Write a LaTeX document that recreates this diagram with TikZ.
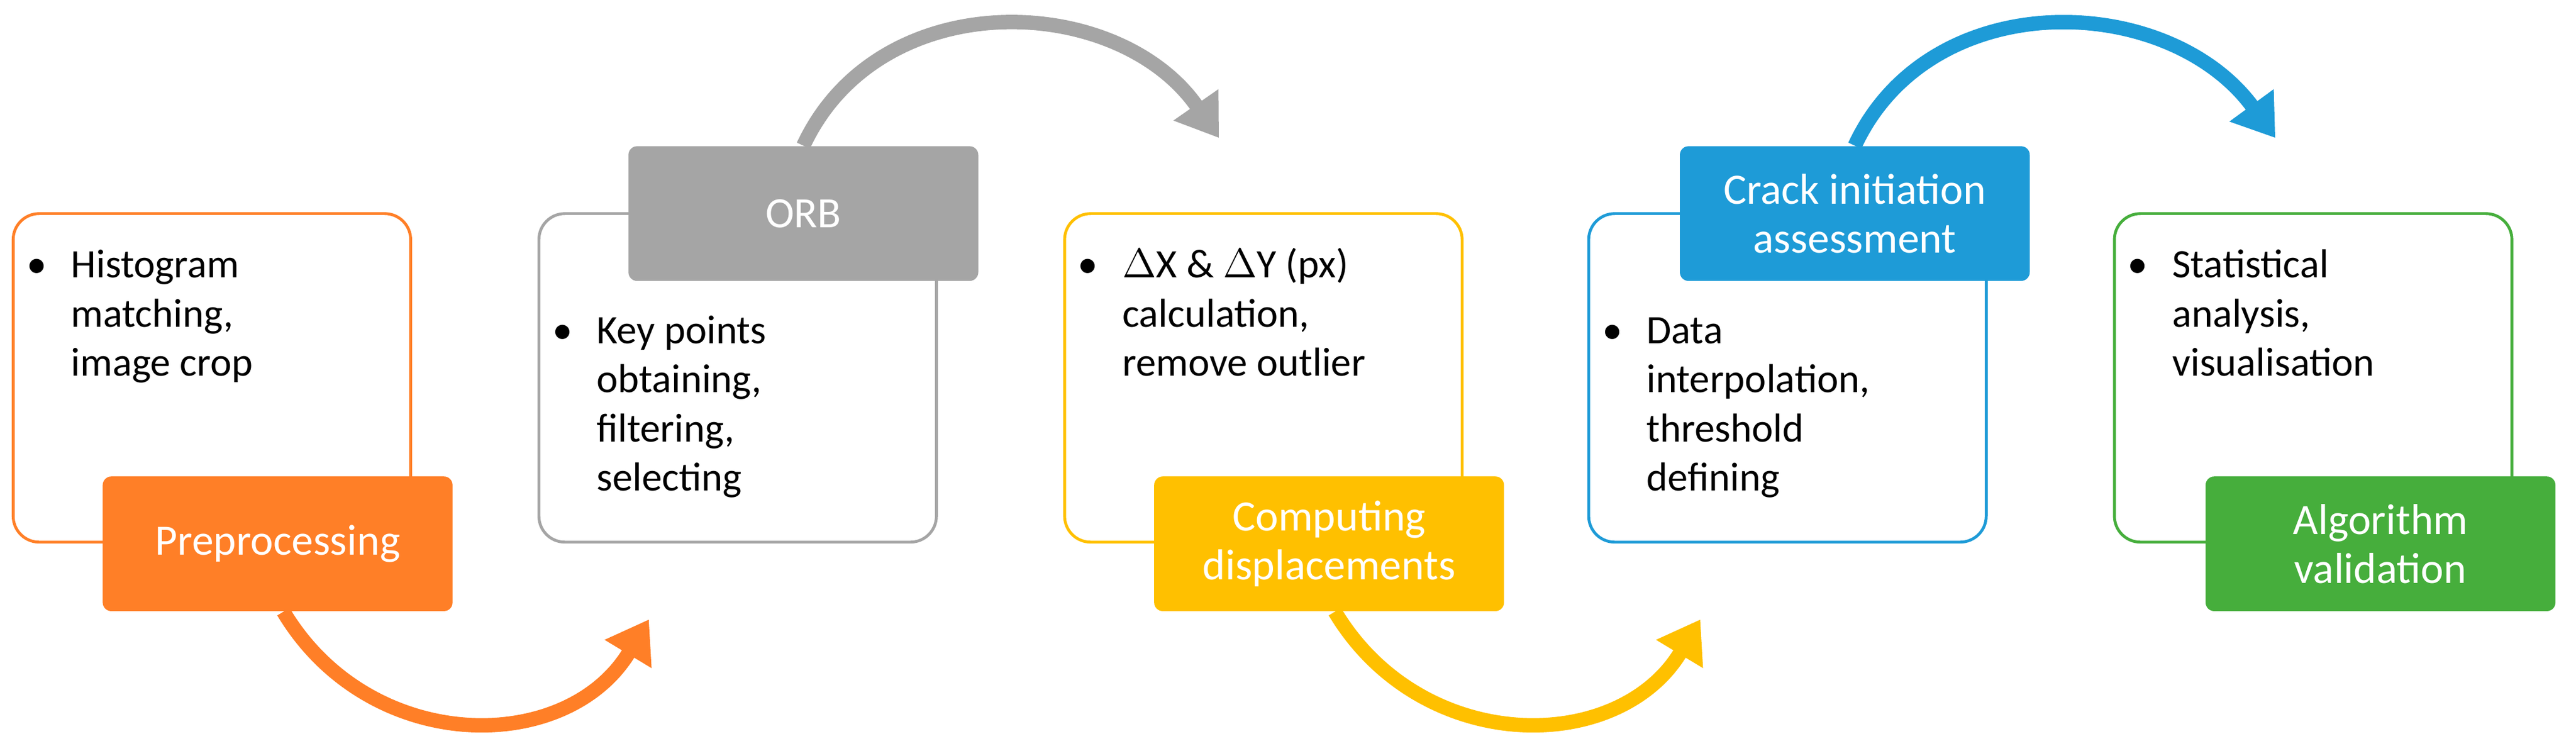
\documentclass[tikz,border=0pt]{standalone}
\usepackage{fontspec}
\setmainfont{Carlito}
\usetikzlibrary{arrows.meta}
\definecolor{cOrange}{HTML}{FF7F27}
\definecolor{cGray}{HTML}{A5A5A5}
\definecolor{cYellow}{HTML}{FFC000}
\definecolor{cBlue}{HTML}{1E9BD7}
\definecolor{cGreen}{HTML}{46AE3C}
\newcommand{\blist}[1]{\begin{tabular}{@{}l@{\hspace{0.6em}}l@{}}#1\end{tabular}}
\tikzset{
  frame/.style={draw=#1, line width=1pt, rounded corners=9pt, minimum width=4.84cm, minimum height=4cm},
  step/.style={fill=#1, rounded corners=3pt, text=white, minimum width=4.26cm, minimum height=1.64cm, align=center, font=\fontsize{15}{17}\selectfont},
  items/.style={anchor=north west, font=\fontsize{14}{17}\selectfont},
  flow/.style={draw=#1, line width=5pt, -{Triangle[length=14pt,width=18pt]}}
}
\begin{document}
\begin{tikzpicture}[x=0.02cm, y=-0.02cm]
    \useasboundingbox (0,0) rectangle (1568,454);
    % frames
    \node[frame=cOrange] (f1) at (129,230) {};
    \node[frame=cGray]   (f2) at (449,230) {};
    \node[frame=cYellow] (f3) at (769,230) {};
    \node[frame=cBlue]   (f4) at (1088,230) {};
    \node[frame=cGreen]  (f5) at (1408,230) {};
    % bullet texts
    \node[items] (t1) at (10,142) {\blist{\textbullet & Histogram\\ & matching,\\ & image crop}};
    \node[items] (t2) at (330,182) {\blist{\textbullet & Key points\\ & obtaining,\\ & filtering,\\ & selecting}};
    \node[items] (t3) at (650,142) {\blist{\textbullet & $\Delta$X \& $\Delta$Y (px)\\ & calculation,\\ & remove outlier}};
    \node[items] (t4) at (969,182) {\blist{\textbullet & Data\\ & interpolation,\\ & threshold\\ & defining}};
    \node[items] (t5) at (1289,142) {\blist{\textbullet & Statistical\\ & analysis,\\ & visualisation}};
    % step labels
    \node[step=cOrange] (s1) at (169,331) {Preprocessing};
    \node[step=cGray]   (s2) at (489,130) {ORB};
    \node[step=cYellow] (s3) at (809,331) {Computing\\displacements};
    \node[step=cBlue]   (s4) at (1129,130) {Crack initiation\\assessment};
    \node[step=cGreen]  (s5) at (1449,331) {Algorithm\\validation};
    % arcs between steps
    \coordinate (a1) at (395,377);
    \coordinate (a2) at (742,84);
    \coordinate (a3) at (1035,377);
    \coordinate (a4) at (1385,84);
    \draw[flow=cOrange] ([xshift=2pt]s1.south) .. controls (225,460) and (345,460) .. (a1);
    \draw[flow=cGray]   (s2.north) .. controls (535,-10) and (680,-5) .. (a2);
    \draw[flow=cYellow] ([xshift=2pt]s3.south) .. controls (865,460) and (985,460) .. (a3);
    \draw[flow=cBlue]   (s4.north) .. controls (1175,-10) and (1320,-5) .. (a4);
\end{tikzpicture}
\end{document}
